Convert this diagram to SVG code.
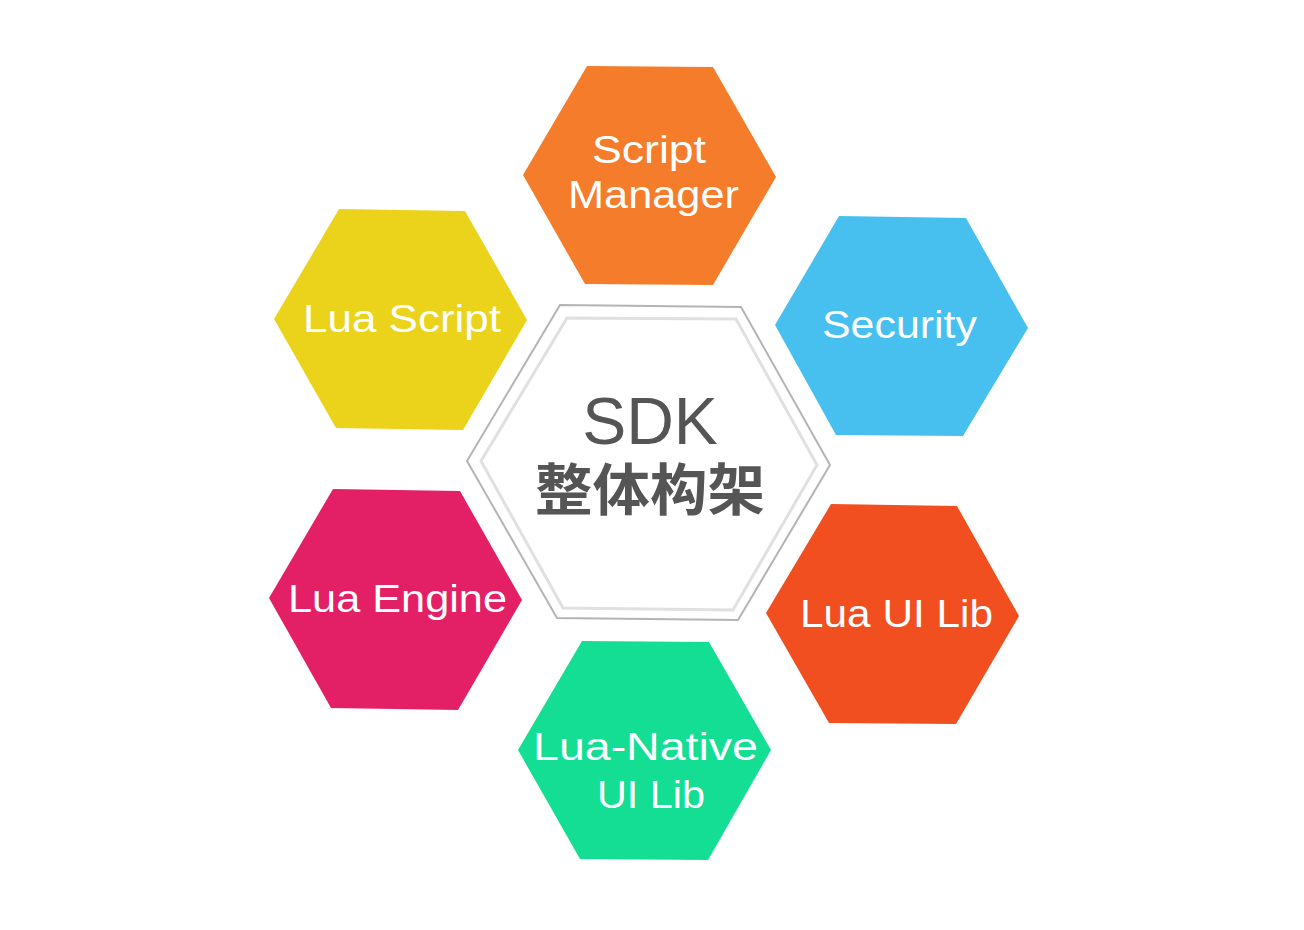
<svg xmlns="http://www.w3.org/2000/svg" width="1304" height="930" viewBox="0 0 1304 930">
<style>
.lbl{font-family:"Liberation Sans",Arial,sans-serif;font-size:38px;fill:#ffffff;text-anchor:start}
.title{font-family:"Liberation Sans",Arial,sans-serif;font-size:66px;fill:#555555;text-anchor:middle}
.cjk{font-family:"Noto Sans CJK SC","Liberation Sans",sans-serif;font-size:56px;font-weight:bold;fill:#555555;text-anchor:middle}
</style>
<rect width="1304" height="930" fill="#ffffff"/>
<g id="center">
<polygon points="560,305 741,307 830,465 738,620 557,618 467,461" fill="#ffffff" stroke="#b4b4b4" stroke-width="2"/>
<polygon points="567,318 736,319 817,465 733,610 563,608 481,461" fill="none" stroke="#e0e0e0" stroke-width="3"/>
<text class="title" x="650" y="444">SDK</text>
<text class="cjk" x="650" y="510" textLength="230" lengthAdjust="spacingAndGlyphs">整体构架</text>
</g>
<g id="script-manager">
<polygon points="587,66 713,67 776,177 713,285 585,284 523,175" fill="#f47c2a"/>
<text class="lbl" x="592" y="163" textLength="114" lengthAdjust="spacingAndGlyphs">Script</text>
<text class="lbl" x="568" y="208" textLength="171" lengthAdjust="spacingAndGlyphs">Manager</text>
</g>
<g id="lua-script">
<polygon points="339,209 465,211 527,320 463,430 336,428 274,319" fill="#ebd31b"/>
<text class="lbl" x="303" y="332" textLength="198" lengthAdjust="spacingAndGlyphs">Lua Script</text>
</g>
<g id="security">
<polygon points="839,216 966,218 1028,328 963,436 836,435 775,325" fill="#47bfef"/>
<text class="lbl" x="822" y="338" textLength="155" lengthAdjust="spacingAndGlyphs">Security</text>
</g>
<g id="lua-engine">
<polygon points="333,489 460,491 522,600 458,710 331,708 269,598" fill="#e31f66"/>
<text class="lbl" x="288" y="612" textLength="219" lengthAdjust="spacingAndGlyphs">Lua Engine</text>
</g>
<g id="lua-ui-lib">
<polygon points="831,504 957,506 1019,616 956,724 829,723 766,613" fill="#f24f20"/>
<text class="lbl" x="800" y="627" textLength="193" lengthAdjust="spacingAndGlyphs">Lua UI Lib</text>
</g>
<g id="lua-native-ui-lib">
<polygon points="582,641 709,642 771,750 708,860 580,859 518,750" fill="#13de93"/>
<text class="lbl" x="533" y="760" textLength="225" lengthAdjust="spacingAndGlyphs">Lua-Native</text>
<text class="lbl" x="597" y="808" textLength="108" lengthAdjust="spacingAndGlyphs">UI Lib</text>
</g>
<g id="connectors"></g>
</svg>
